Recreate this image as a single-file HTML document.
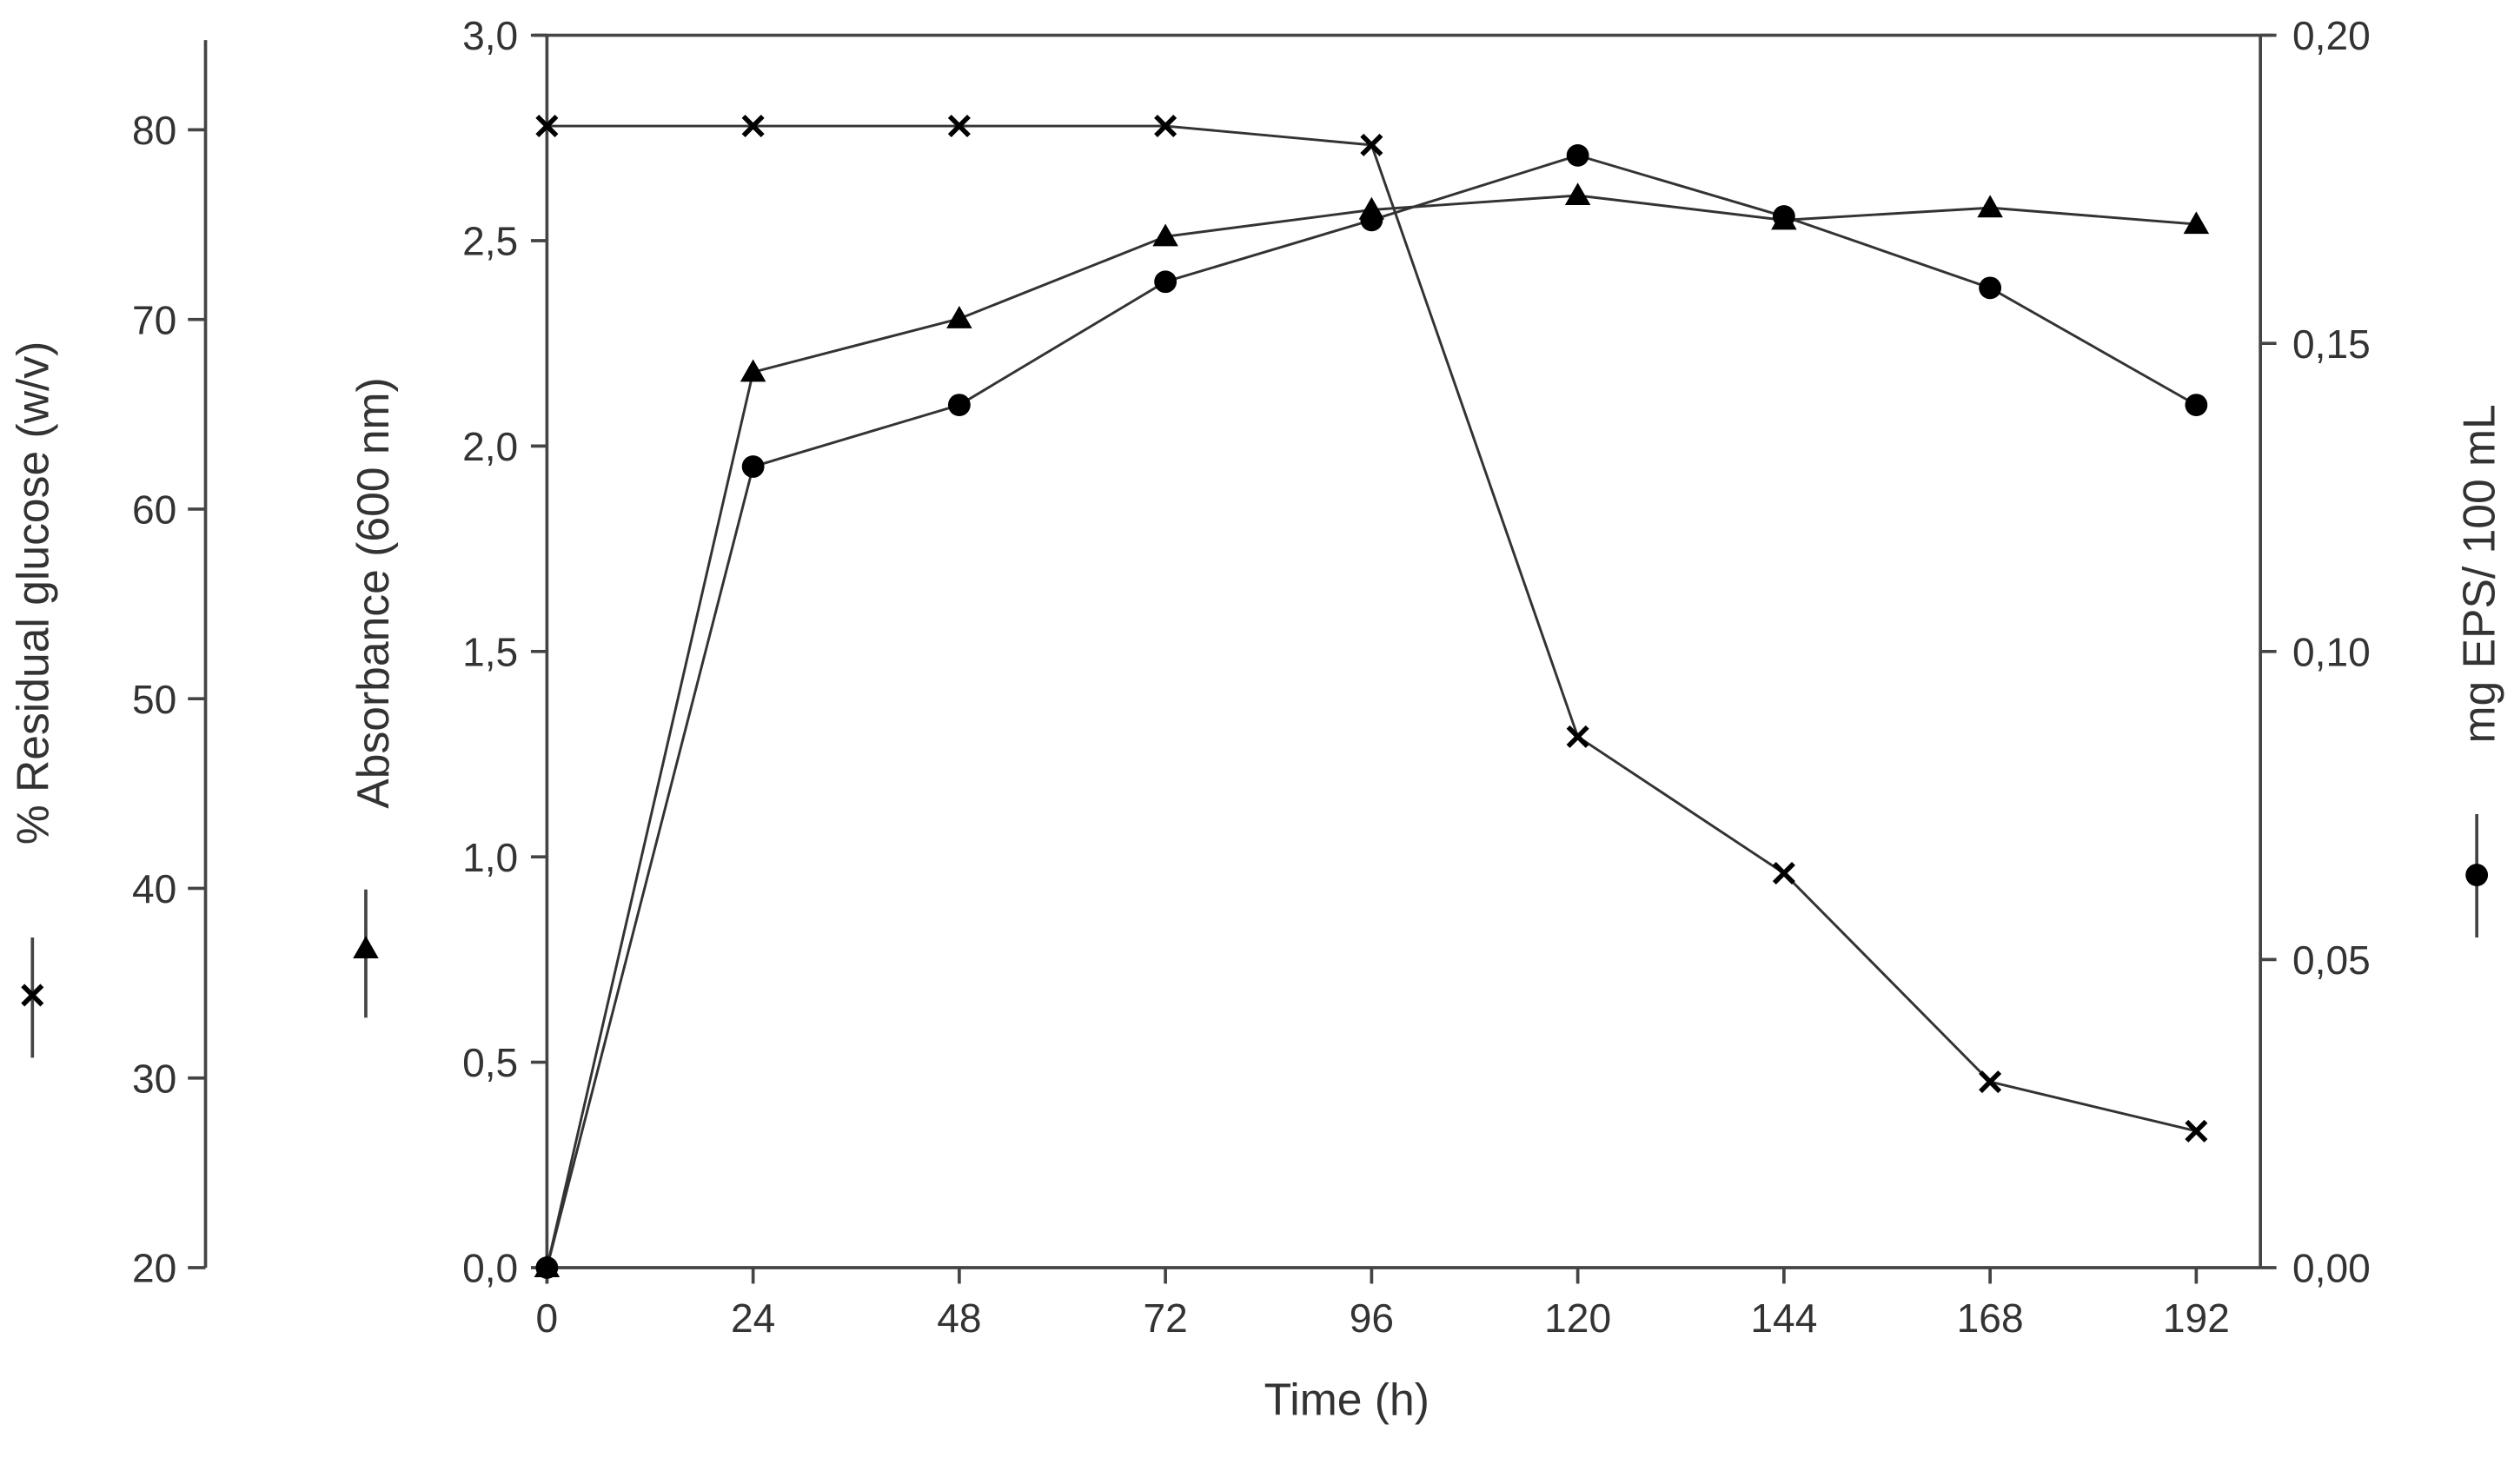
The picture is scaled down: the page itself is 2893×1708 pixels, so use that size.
<!DOCTYPE html>
<html><head><meta charset="utf-8"><style>
html,body{margin:0;padding:0;background:#fff;}
svg{display:block;font-family:"Liberation Sans",sans-serif;}
</style></head><body>
<svg id="chart" width="2893" height="1708" viewBox="0 0 1568 926" xmlns="http://www.w3.org/2000/svg">
<g id="axes"></g>
<g id="series"></g>
</svg>
<script>
const times = [0, 24, 48, 72, 96, 120, 144, 168, 192];
const glucose = [80.2, 80.2, 80.2, 80.2, 79.2, 48.0, 40.8, 29.8, 27.2];
const absorbance = [0, 2.18, 2.31, 2.51, 2.575, 2.61, 2.55, 2.58, 2.54];
const eps = [0, 0.130, 0.140, 0.160, 0.170, 0.1805, 0.1706, 0.159, 0.140];
const xTicks = [0, 24, 48, 72, 96, 120, 144, 168, 192];
const glucoseTicks = [20, 30, 40, 50, 60, 70, 80];
const absTicks = ["0,0","0,5","1,0","1,5","2,0","2,5","3,0"];
const epsTicks = ["0,00","0,05","0,10","0,15","0,20"];

const NS = "http://www.w3.org/2000/svg";
const X0 = 341, X1 = 1370, YB = 791, YT = 22, AXL = 341;
const xs = t => X0 + (t - 0) / 192 * (X1 - X0);
const yAbs = v => YB - v / 3 * (YB - YT);
const yEps = v => YB - v / 0.2 * (YB - YT);
const yGlu = v => YB - (v - 20) / 60 * (YB - 81);
function mk(tag, attrs, parent) {
  const e = document.createElementNS(NS, tag);
  for (const k in attrs) e.setAttribute(k, attrs[k]);
  parent.appendChild(e);
  return e;
}
const axes = document.getElementById('axes');
const ser = document.getElementById('series');
const AX = {stroke:"#444","stroke-width":2,fill:"none"};
function line(x1,y1,x2,y2,p,name){
  const l = mk('line',Object.assign({x1,y1,x2,y2},AX),p);
  
  
  return l;
}
function text(x,y,s,anchor,size,p,name,rot){
  const t = mk('text',{x,y,'font-size':size,fill:"#333",'text-anchor':anchor},p);
  if(rot) t.setAttribute('transform',rot);
  t.textContent = s;
  
  
  return t;
}
line(AXL,YT,AXL,YB+10,axes,'absorbance-axis');
line(AXL-8,YT,1418,YT,axes,'top-frame');
line(1410,YT,1410,YB,axes,'eps-axis');
line(AXL,YB,1410,YB,axes,'x-axis');
line(128,25,128,YB,axes,'glucose-axis');
xTicks.forEach(t=>{
  line(xs(t),YB,xs(t),YB+10,axes,'x-tick');
  text(xs(t),YB+40,String(t),'middle',25,axes,'x-tick-label');
});
absTicks.forEach((s,i)=>{
  const y = yAbs(i*0.5);
  line(AXL-10,y,AXL,y,axes,'absorbance-tick');
  text(AXL-18,y+9,s,'end',25,axes,'absorbance-tick-label');
});
epsTicks.forEach((s,i)=>{
  const y = yEps(i*0.05);
  line(1410,y,1420,y,axes,'eps-tick');
  text(1430,y+9,s,'start',25,axes,'eps-tick-label');
});
glucoseTicks.forEach(v=>{
  const y = yGlu(v);
  line(117,y,128,y,axes,'glucose-tick');
  text(110,y+9,String(v),'end',25,axes,'glucose-tick-label');
});
text(840,883,'Time (h)','middle',28,axes,'x-axis-title');
text(30,370,'% Residual glucose (w/v)','middle',28,axes,'glucose-axis-title','rotate(-90 30 370)');
text(242,370,'Absorbance (600 nm)','middle',28,axes,'absorbance-axis-title','rotate(-90 242 370)');
text(1556,358,'mg EPS/ 100 mL','middle',28,axes,'eps-axis-title','rotate(-90 1556 358)');
line(20,585,20,660,axes,'glucose-legend-line');
line(228,555,228,635,axes,'absorbance-legend-line');
line(1545,508,1545,585,axes,'eps-legend-line');
function cross(x,y,p){
  const g = mk('g',{},p);
  
  
  mk('path',{d:`M${x-6} ${y-6}L${x+6} ${y+6}M${x-6} ${y+6}L${x+6} ${y-6}`,stroke:"#000","stroke-width":3},g);
}
function tri(x,y,p){
  const t = mk('path',{d:`M${x} ${y-8}L${x+8} ${y+6}L${x-8} ${y+6}Z`,fill:"#000"},p);
  
  
}
function dot(x,y,p){
  const c = mk('circle',{cx:x,cy:y,r:7,fill:"#000"},p);
  
  
}
cross(20,621,axes); tri(228,592,axes); dot(1545,546,axes);
function series(vals, yf, name, marker){
  const g = mk('g',{},ser);
  
  
  const pts = vals.map((v,i)=>xs(times[i])+','+yf(v)).join(' ');
  const pl = mk('polyline',{points:pts,fill:"none",stroke:"#333","stroke-width":1.6},g);
  
  
  vals.forEach((v,i)=>marker(xs(times[i]),yf(v),g));
}
series(absorbance,yAbs,'absorbance-series',tri);
series(eps,yEps,'eps-series',dot);
series(glucose,yGlu,'glucose-series',cross);
</script>
</body></html>
